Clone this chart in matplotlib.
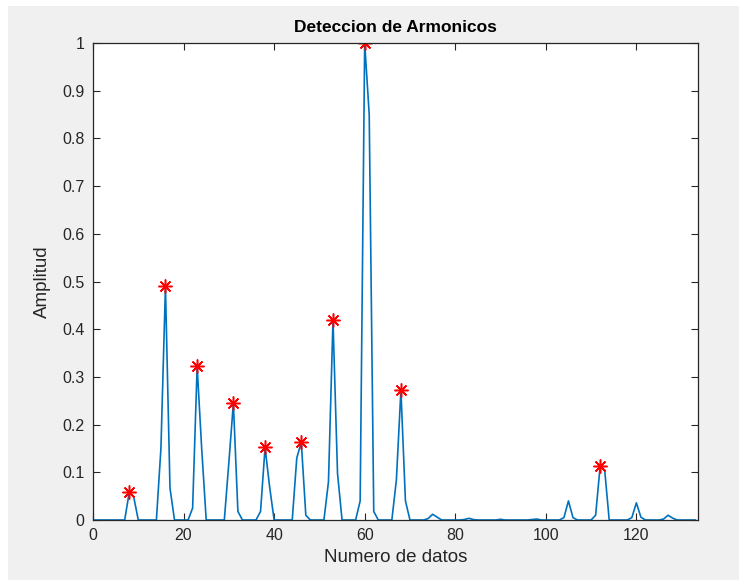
import numpy as np
import matplotlib
matplotlib.use("Agg")
import matplotlib.pyplot as plt
from matplotlib.patches import Rectangle

plt.rcParams['font.family'] = ['Liberation Sans', 'DejaVu Sans']

# espectro normalizado (indices 0..133)
amplitud = [
    0, 0, 0, 0, 0, 0, 0, 0, 0.058, 0.048,          # 0-9
    0, 0, 0, 0, 0, 0.15, 0.49, 0.067, 0, 0,         # 10-19
    0, 0, 0.025, 0.322, 0.15, 0, 0, 0, 0, 0,        # 20-29
    0.12, 0.245, 0.018, 0, 0, 0, 0, 0.018, 0.152, 0.07,  # 30-39
    0, 0, 0, 0, 0, 0.13, 0.163, 0.01, 0, 0,         # 40-49
    0, 0, 0.08, 0.419, 0.098, 0, 0, 0, 0, 0.04,     # 50-59
    1.0, 0.85, 0.018, 0, 0, 0, 0, 0.084, 0.272, 0.04,    # 60-69
    0, 0, 0, 0, 0.003, 0.012, 0.006, 0, 0, 0,       # 70-79
    0, 0, 0.001, 0.0035, 0.001, 0, 0, 0, 0, 0,      # 80-89
    0.0015, 0, 0, 0, 0, 0, 0, 0.001, 0.002, 0,      # 90-99
    0, 0, 0, 0, 0.005, 0.04, 0.005, 0, 0, 0,        # 100-109
    0, 0.01, 0.113, 0.105, 0, 0, 0, 0, 0, 0.005,    # 110-119
    0.036, 0.006, 0, 0, 0, 0, 0.002, 0.01, 0.004, 0,  # 120-129
    0, 0, 0, 0,                                     # 130-133
]
picos = [8, 16, 23, 31, 38, 46, 53, 60, 68, 112]

amplitud = np.array(amplitud)
n = np.arange(len(amplitud))

fig = plt.figure(figsize=(7.39, 5.80), dpi=100, facecolor='white')
fig.patches.append(Rectangle((8/739, 0), 1, 1 - 6/580, transform=fig.transFigure,
                             facecolor='#f0f0f0', edgecolor='none', zorder=-10))

ax = fig.add_axes([93/739, 1 - 520/580, (697.5 - 93)/739, (520 - 43)/580])
ax.plot(n, amplitud, color='#0072BD', lw=1.2)
# asterisco estilo matlab
ax.plot(picos, amplitud[picos], ls='none', marker=(8, 2, 0), color='red',
        ms=10, mew=1.1)

ax.set_xlim(0, 133.5)
ax.set_ylim(0, 1)
ax.set_xticks(np.arange(0, 121, 20))
ax.set_yticks(np.arange(0, 1.01, 0.1))
ax.set_yticklabels(['0', '0.1', '0.2', '0.3', '0.4', '0.5', '0.6', '0.7', '0.8', '0.9', '1'])

ax.tick_params(direction='in', top=True, right=True, length=5, width=0.8,
               colors='#262626', labelsize=11.5, pad=6)
for s in ax.spines.values():
    s.set_color('#262626')
    s.set_linewidth(0.9)

ax.set_title('Deteccion de Armonicos', fontsize=12.5, fontweight='bold', pad=8)
ax.set_xlabel('Numero de datos', fontsize=13.5, color='#262626', labelpad=4)
ax.set_ylabel('Amplitud', fontsize=13.5, color='#262626', labelpad=8)

fig.savefig('out.png', dpi=100, facecolor=fig.get_facecolor())
